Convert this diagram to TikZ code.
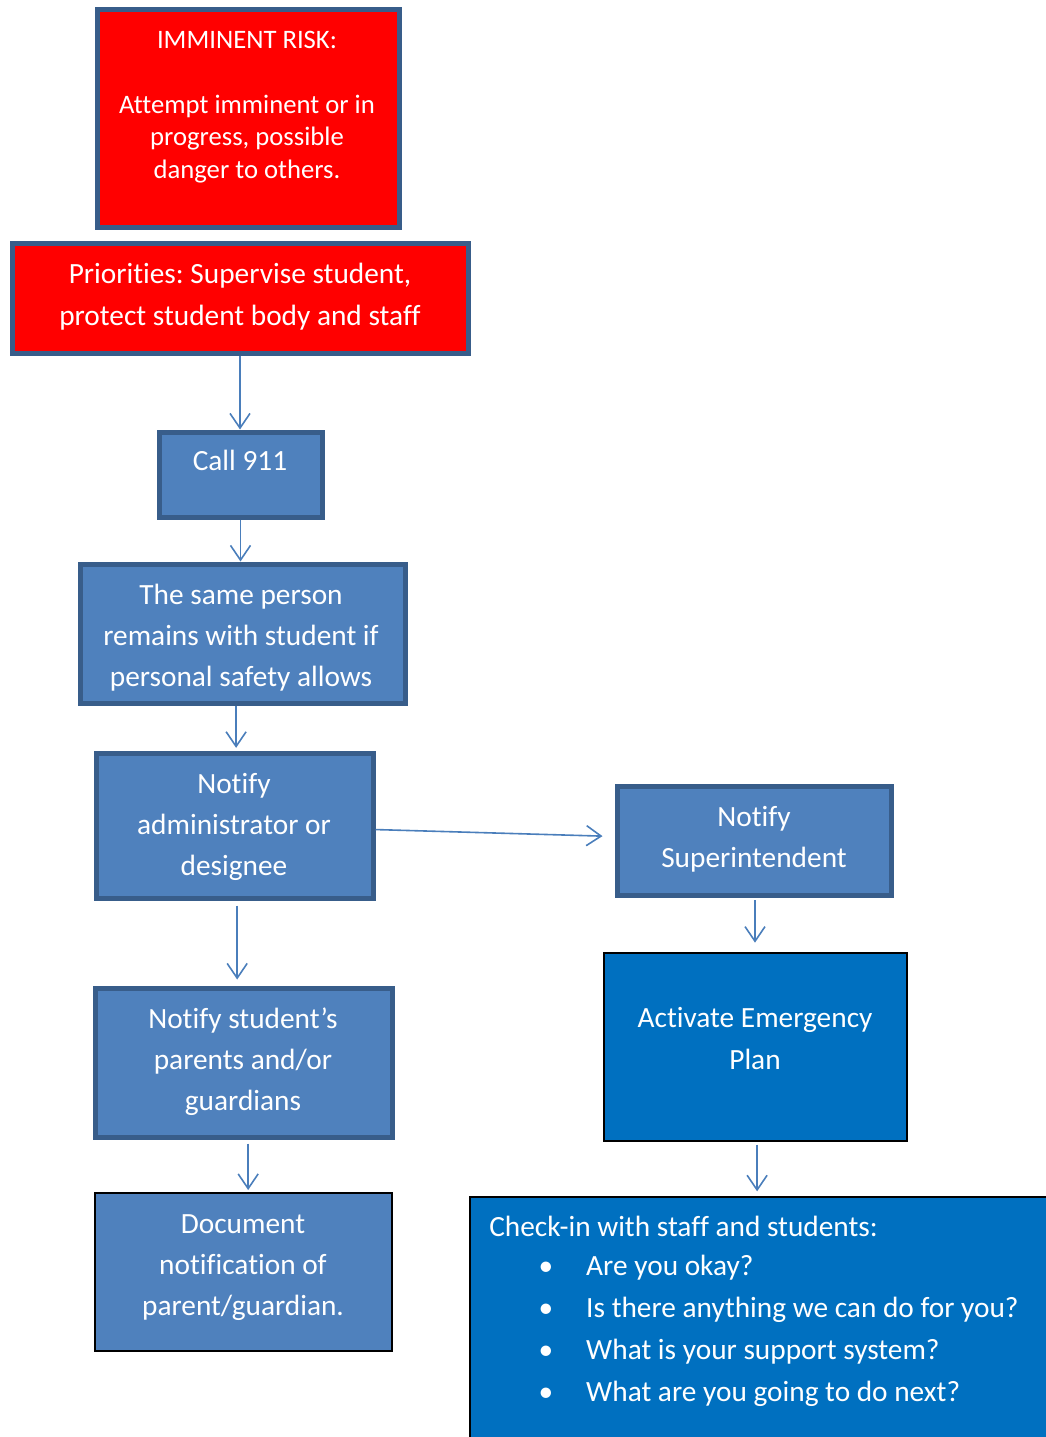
\documentclass[tikz,border=0pt]{standalone}
\usepackage{fontspec}
\setmainfont[Ligatures=NoCommon]{Carlito}
\frenchspacing
\usetikzlibrary{arrows.meta,positioning,calc}
\definecolor{riskred}{HTML}{FF0000}
\definecolor{boxblue}{HTML}{4F81BD}
\definecolor{edgeblue}{HTML}{385D8A}
\definecolor{plainblue}{HTML}{0070C0}
\definecolor{arrowblue}{HTML}{4A7EBB}

\begin{document}
\begin{tikzpicture}
  [x=0.75pt,y=-0.75pt,
   boxN/.style={draw=edgeblue,line width=3.75pt,fill=boxblue,anchor=north west,inner sep=0pt},
   riskN/.style={boxN,fill=riskred},
   flatN/.style={boxN,draw=black,line width=1.5pt},
   deepN/.style={flatN,fill=plainblue},
   txtN/.style={text=white,font=\fontsize{22}{30.75}\selectfont,align=center,inner sep=0pt},
   flow/.style={draw=arrowblue,line width=1.2pt,-{Straight Barb[length=11pt,width=15pt]}},
  ]

 \useasboundingbox (0,0) rectangle (1045,1437);

 % boxes
 \node[riskN,minimum width=226.5pt,minimum height=163.5pt] (imminent) at (94.5,7.5) {};
 \node[riskN,minimum width=342pt,minimum height=81.75pt]   (prio)     at (9.5,241.5) {};
 \node[boxN,minimum width=122.25pt,minimum height=63.75pt] (call)     at (156.5,429.5) {};
 \node[boxN,minimum width=243.75pt,minimum height=104.25pt] (same)    at (77.5,561.5) {};
 \node[boxN,minimum width=207.75pt,minimum height=108.75pt] (admin)   at (93.5,750.5) {};
 \node[boxN,minimum width=205.5pt,minimum height=81.75pt]  (super)    at (614.5,783.5) {};
 \node[deepN,minimum width=227.25pt,minimum height=141pt]  (activate) at (603,952) {};
 \node[boxN,minimum width=222.75pt,minimum height=111.75pt] (parents) at (92.5,985.5) {};
 \node[flatN,minimum width=222.75pt,minimum height=118.5pt] (record)  at (94,1192) {};
 \node[deepN,minimum width=450pt,minimum height=197.25pt]  (checkin)  at (469,1196) {};

 % texts
 \node[txtN,font=\fontsize{20}{24.4}\selectfont] (imminentT) at (247,107)
   {IMMINENT RISK:\\[24.4pt]Attempt imminent or in\\progress, possible\\danger to others.};
 \node[txtN,font=\fontsize{22}{31.5}\selectfont] (prioT) at (240,297)
   {Priorities: Supervise student,\\protect student body and staff};
 \node[txtN] (callT) at (240,460) {Call 911};
 \node[txtN] (sameT) at (241,638)
   {The same person\\remains with student if\\personal safety allows};
 \node[txtN] (adminT) at (234,827) {Notify\\administrator or\\designee};
 \node[txtN] (superT) at (754,839) {Notify\\Superintendent};
 \node[txtN,font=\fontsize{22}{31.5}\selectfont] (activateT) at (755,1039)
   {Activate Emergency\\Plan};
 \node[txtN] (parentsT) at (243,1062) {Notify student’s\\parents and/or\\guardians};
 \node[txtN] (recordT) at (243,1268) {Document\\notification of\\parent/guardian.};
 \node[txtN,align=left,anchor=west,font=\fontsize{22}{31.5}\selectfont] (checkinT) at (489,1311)
   {Check-in with staff and students:\\[-2.5pt]
    \hspace*{37pt}\makebox[35.75pt][l]{\textbullet}Are you okay?\\
    \hspace*{37pt}\makebox[35.75pt][l]{\textbullet}Is there anything we can do for you?\\
    \hspace*{37pt}\makebox[35.75pt][l]{\textbullet}What is your support system?\\
    \hspace*{37pt}\makebox[35.75pt][l]{\textbullet}What are you going to do next?};

 % arrows
 \draw[flow] (prio.south) -- (prio.south |- call.north);
 \draw[flow] (call.south) -- (call.south |- same.north);
 \draw[flow,shorten >=2pt] ([xshift=1.2pt]same.south -| admin.north) -- ([xshift=1.2pt]admin.north);
 \draw[flow,shorten <=3.75pt,shorten >=4.5pt] ([xshift=2pt]admin.south) -- ([xshift=2pt]admin.south |- parents.north);
 \draw[flow,shorten <=3pt,shorten >=1.5pt] ([xshift=3.5pt]parents.south) -- ([xshift=3.5pt]parents.south |- record.north);
 \draw[flow,shorten >=9pt] (admin) -- (super);
 \draw[flow,shorten <=2pt,shorten >=7pt] ([xshift=0.75pt]super.south) -- ([xshift=0.75pt]super.south |- activate.north);
 \draw[flow,shorten <=2pt,shorten >=3.5pt] ([xshift=1.2pt]activate.south) -- ([xshift=1.2pt]activate.south |- checkin.north);

\end{tikzpicture}
\end{document}
